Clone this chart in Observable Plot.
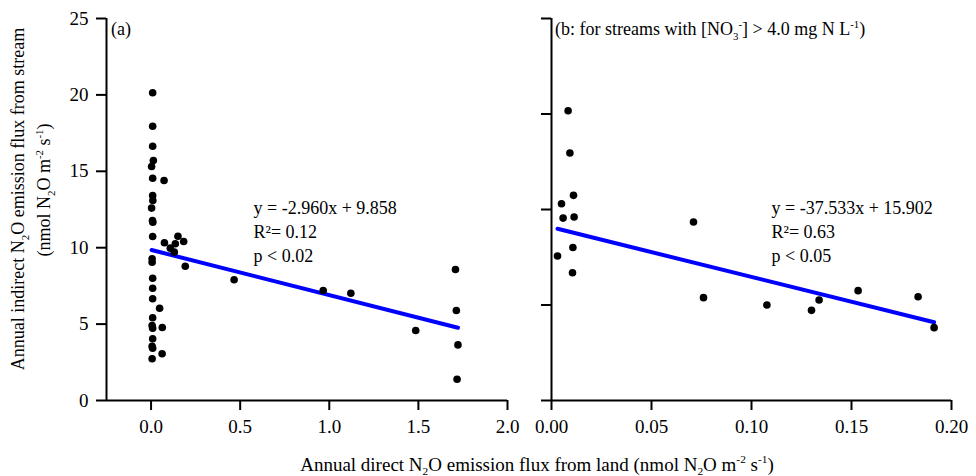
<!DOCTYPE html>
<html>
<head>
<meta charset="utf-8">
<script src="https://cdn.jsdelivr.net/npm/d3@7"></script>
<script src="https://cdn.jsdelivr.net/npm/@observablehq/plot@0.6"></script>
<style>
  body { margin: 0; background: #fff; }
  #wrap { position: relative; width: 976px; height: 476px; font-family: "Liberation Serif", "Times New Roman", serif; color: #000; overflow: hidden; }
  #wrap svg { position: absolute; left: 0; top: 0; }
  .lbl { position: absolute; white-space: nowrap; font-size: 18px; line-height: 1; }
  .lbl sub, .lbl sup { font-size: 0.6em; line-height: 0; }
  .rot { transform: translate(-50%, -50%) rotate(-90deg); transform-origin: center; }
</style>
</head>
<body>
<div id="wrap"></div>
<script>
// (a) all streams: direct land flux vs indirect stream flux
const landFluxA = [
  0.009, 0.009, 0.009, 0.013, 0.003, 0.009, 0.009, 0.010, 0.003, 0.008, 0.010, 0.009,
  0.006, 0.006, 0.009, 0.009, 0.009, 0.009, 0.006, 0.009, 0.009, 0.006, 0.009, 0.006,
  0.073, 0.075, 0.108, 0.136, 0.151, 0.183, 0.130, 0.192, 0.048, 0.063, 0.062,
  0.466, 0.966, 1.121, 1.485, 1.708, 1.713, 1.722, 1.717
];
const streamFluxA = [
  20.14, 17.95, 16.64, 15.71, 15.31, 14.55, 13.42, 13.09, 12.59, 11.78, 11.67, 10.73,
  9.27, 9.05, 8.00, 7.35, 6.66, 5.42, 4.91, 4.73, 4.04, 3.55, 3.42, 2.73,
  14.40, 10.32, 9.97, 10.26, 10.75, 10.41, 9.71, 8.79, 6.04, 4.78, 3.06,
  7.90, 7.20, 7.02, 4.58, 8.57, 5.89, 3.64, 1.39
];

// (b) streams with nitrate above 4.0 mg N/L
const landFluxB = [
  0.0083, 0.0092, 0.0110, 0.0050, 0.0058, 0.0113, 0.0107, 0.0030, 0.0105,
  0.0710, 0.0760, 0.1077, 0.1300, 0.1338, 0.1533, 0.1833, 0.1913
];
const streamFluxB = [
  24.72, 21.52, 18.32, 17.69, 16.60, 16.68, 14.38, 13.73, 12.47,
  16.30, 10.58, 10.02, 9.62, 10.40, 11.11, 10.65, 8.31
];

// linear fits
const fitSlope = [-2.960, -37.533];
const fitIntercept = [9.858, 15.902];
const fitStats = [["R\u00b2= 0.12", "p < 0.02"], ["R\u00b2= 0.63", "p < 0.05"]];

// axes
const xTicksA = [0, 0.5, 1.0, 1.5, 2.0];
const yTicksA = [0, 5, 10, 15, 20, 25];
const xTicksB = [0, 0.05, 0.10, 0.15, 0.20];
const yDomainB = [2.8, 31.7];
const yTicksB = d3.range(5).map(i => yDomainB[0] + i * (yDomainB[1] - yDomainB[0]) / 4);

const W = 976, H = 476;
const font = "'Liberation Serif', 'Times New Roman', serif";
const style = { fontFamily: font, fontSize: "19px", color: "#000", background: "transparent", overflow: "visible" };

function eqText(i) {
  const b = fitIntercept[i].toFixed(3);
  const m = fitSlope[i].toFixed(3);
  return [`y = ${m}x + ${b}`, ...fitStats[i]].join("\n");
}

function fitLine(xs, i) {
  return d3.extent(xs).map(x => ({ x, y: fitIntercept[i] + fitSlope[i] * x }));
}

const ptsA = landFluxA.map((x, i) => ({ x, y: streamFluxA[i] }));
const ptsB = landFluxB.map((x, i) => ({ x, y: streamFluxB[i] }));

const panelA = Plot.plot({
  width: W, height: H,
  marginLeft: 106, marginRight: W - 507, marginTop: 18, marginBottom: 76,
  style,
  x: { domain: [-0.25, 2.0] },
  y: { domain: [0, 25] },
  marks: [
    Plot.axisY({ ticks: yTicksA, tickSize: 10, tickPadding: 8, strokeWidth: 2, label: null }),
    Plot.axisX({ ticks: xTicksA, tickSize: 10, tickPadding: 9, strokeWidth: 2, tickFormat: d3.format(".1f"), label: null }),
    Plot.ruleX([-0.25], { strokeWidth: 2 }),
    Plot.ruleY([0], { strokeWidth: 2 }),
    Plot.line(fitLine(landFluxA, 0), { x: "x", y: "y", stroke: "#0000ff", strokeWidth: 4 }),
    Plot.dot(ptsA, { x: "x", y: "y", r: 3.8, fill: "#000", stroke: null }),
    Plot.text([eqText(0)], { x: 0.575, y: 13.3, text: d => d, textAnchor: "start", lineAnchor: "top", lineHeight: 1.33, fontSize: 18 })
  ]
});

const panelB = Plot.plot({
  width: W, height: H,
  marginLeft: 551, marginRight: W - 951, marginTop: 18, marginBottom: 76,
  style,
  x: { domain: [0, 0.2] },
  y: { domain: yDomainB },
  marks: [
    Plot.axisY({ ticks: yTicksB, tickSize: 10, strokeWidth: 2, tickFormat: () => "", label: null }),
    Plot.axisX({ ticks: xTicksB, tickSize: 10, tickPadding: 9, strokeWidth: 2, tickFormat: d3.format(".2f"), label: null }),
    Plot.ruleX([0], { strokeWidth: 2 }),
    Plot.ruleY([yDomainB[0]], { strokeWidth: 2 }),
    Plot.line(fitLine(landFluxB, 1), { x: "x", y: "y", stroke: "#0000ff", strokeWidth: 4 }),
    Plot.dot(ptsB, { x: "x", y: "y", r: 3.8, fill: "#000", stroke: null }),
    Plot.text([eqText(1)], { x: 0.11, y: 18.2, text: d => d, textAnchor: "start", lineAnchor: "top", lineHeight: 1.33, fontSize: 18 })
  ]
});

const wrap = document.getElementById("wrap");
wrap.append(panelA, panelB);

function addLabel(html, css, cls = "lbl") {
  const d = document.createElement("div");
  d.className = cls;
  d.innerHTML = html;
  Object.assign(d.style, css);
  wrap.append(d);
}

addLabel("(a)", { left: "111px", top: "20px" });
addLabel("(b: for streams with [NO<sub>3</sub><sup>-</sup>] &gt; 4.0 mg N L<sup>-1</sup>)", { left: "555px", top: "20px" });
addLabel("Annual indirect N<sub>2</sub>O emission flux from stream", { left: "18px", top: "199px" }, "lbl rot");
addLabel("(nmol N<sub>2</sub>O m<sup>-2</sup> s<sup>-1</sup>)", { left: "44px", top: "190px" }, "lbl rot");
addLabel("Annual direct N<sub>2</sub>O emission flux from land (nmol N<sub>2</sub>O m<sup>-2</sup> s<sup>-1</sup>)", { left: "537px", top: "464px", fontSize: "19px", transform: "translate(-50%, -50%)" });
</script>
</body>
</html>
